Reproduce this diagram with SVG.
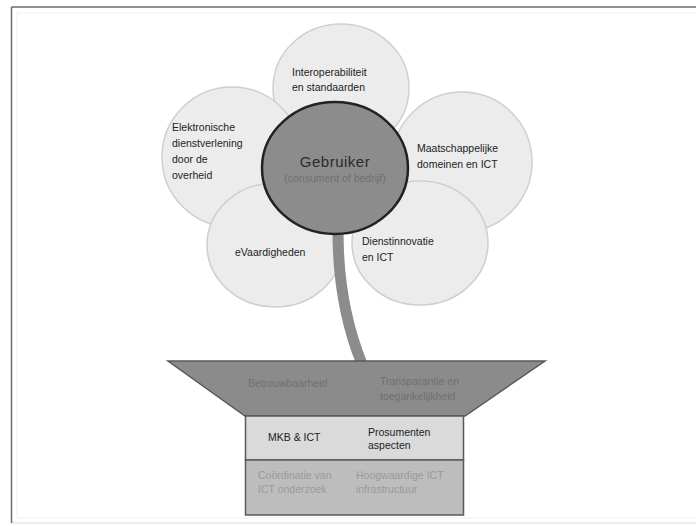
<svg xmlns="http://www.w3.org/2000/svg" width="696" height="526" viewBox="0 0 696 526">
<style>
.petal{fill:#ececec;stroke:#cfcfcf;stroke-width:1.5}
.t{font-family:"Liberation Sans",Arial,sans-serif;font-size:10.5px;fill:#222}
.tp{font-family:"Liberation Sans",Arial,sans-serif;font-size:10.5px;fill:#707070}
.tb{font-family:"Liberation Sans",Arial,sans-serif;font-size:10.5px;fill:#9a9a9a}
</style>
<rect x="0" y="0" width="696" height="526" fill="#ffffff"/>
<g id="frame">
<rect x="11.5" y="7" width="700" height="516" fill="#ffffff" stroke="#e6e6e6" stroke-width="1.5"/>
<line x1="11.5" y1="7" x2="696" y2="7" stroke="#707070" stroke-width="1.5"/>
<line x1="11.5" y1="7" x2="11.5" y2="523" stroke="#707070" stroke-width="1.5"/>
<rect x="17" y="13" width="690" height="505" fill="none" stroke="#f0f0f0" stroke-width="1"/>
</g>
<g id="petal-top"><ellipse class="petal" cx="341" cy="88" rx="68" ry="64"/><text class="t" x="292" y="76">Interoperabiliteit</text><text class="t" x="292" y="91">en standaarden</text></g>
<g id="petal-left"><ellipse class="petal" cx="232" cy="157" rx="70" ry="70"/></g>
<g id="petal-right"><ellipse class="petal" cx="462" cy="162" rx="70" ry="70"/></g>
<g id="petal-bottom-left"><ellipse class="petal" cx="275" cy="245" rx="68" ry="62"/></g>
<g id="petal-bottom-right"><ellipse class="petal" cx="420" cy="243" rx="68" ry="62"/></g>
<g id="connectors"><path d="M338 232 Q338 305 362 364" fill="none" stroke="#8c8c8c" stroke-width="11"/></g>
<g id="labels-petals">
<text class="t" x="172" y="131">Elektronische</text>
<text class="t" x="172" y="147">dienstverlening</text>
<text class="t" x="172" y="163">door de</text>
<text class="t" x="172" y="179">overheid</text>
<text class="t" x="417" y="152">Maatschappelijke</text>
<text class="t" x="417" y="168">domeinen en ICT</text>
<text class="t" x="235" y="256">eVaardigheden</text>
<text class="t" x="362" y="245">Dienstinnovatie</text>
<text class="t" x="362" y="261">en ICT</text>
</g>
<g id="center"><ellipse cx="335" cy="168" rx="73" ry="66" fill="#8c8c8c" stroke="#222" stroke-width="2.5"/>
<text x="335" y="167" text-anchor="middle" font-family="'Liberation Sans',Arial,sans-serif" font-size="15" fill="#2a2a2a" letter-spacing="0.5">Gebruiker</text>
<text x="335" y="182" text-anchor="middle" class="tp" font-size="10">(consument of bedrijf)</text></g>
<g id="pot-top"><polygon points="168,361 545,361 465,416 245,416" fill="#8b8b8b" stroke="#5a5a5a" stroke-width="1.5"/>
<text class="tp" x="248" y="387">Betrouwbaarheid</text>
<text class="tp" x="380" y="385">Transparantie en</text>
<text class="tp" x="380" y="400">toegankelijkheid</text></g>
<g id="box-mkb"><rect x="245.5" y="416" width="218" height="44" fill="#dadada" stroke="#5a5a5a" stroke-width="1.5"/>
<text class="t" x="268" y="441" fill="#444">MKB &amp; ICT</text>
<text class="t" x="368" y="436" fill="#444">Prosumenten</text>
<text class="t" x="368" y="449" fill="#444">aspecten</text></g>
<g id="box-infra"><rect x="245.5" y="460" width="218" height="55" fill="#bdbdbd" stroke="#5a5a5a" stroke-width="1.5"/>
<text class="tb" x="258" y="479">Coördinatie van</text>
<text class="tb" x="258" y="493">ICT onderzoek</text>
<text class="tb" x="356" y="479">Hoogwaardige ICT</text>
<text class="tb" x="356" y="493">infrastructuur</text></g>
</svg>
